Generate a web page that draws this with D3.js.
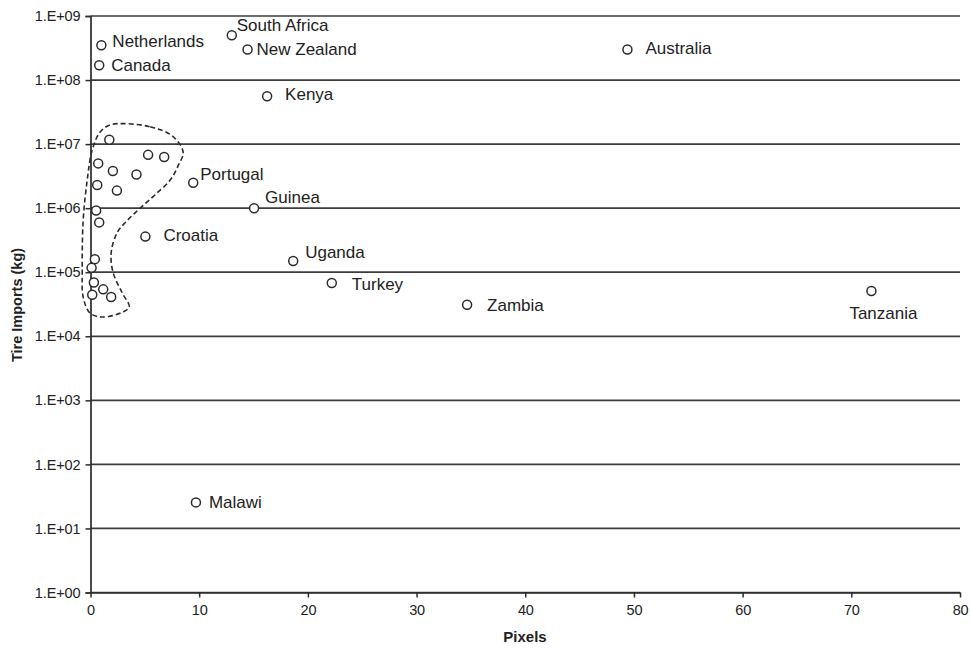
<!DOCTYPE html>
<html>
<head>
<meta charset="utf-8">
<script src="https://cdn.jsdelivr.net/npm/d3@7"></script>
<style>
  body { margin: 0; background: #fff; }
  svg { font-family: "Liberation Sans", Arial, sans-serif; }
</style>
</head>
<body>
<svg></svg>
<script>
// named countries
const countries = ["Netherlands", "Canada", "South Africa", "New Zealand", "Australia", "Kenya",
    "Portugal", "Guinea", "Croatia", "Uganda", "Turkey", "Zambia", "Tanzania", "Malawi"]
const pixels  = [1.0, 0.8, 13.0, 14.45, 49.4, 16.25, 9.45, 15.05, 5.05, 18.65, 22.2, 34.65, 71.85, 9.7]
const imports = [3.5e8, 1.7e8, 5.0e8, 3.0e8, 3.0e8, 5.6e7, 2.5e6, 1.0e6, 3.6e5, 1.5e5, 6.8e4, 3.1e4, 5.1e4, 25.5]

// unlabelled points inside the dashed outline
const clusterPixels  = [1.73, 5.3, 6.78, 0.71, 2.06, 4.23, 0.62, 2.43, 0.52, 0.8, 0.4, 0.1, 0.31, 1.17, 0.16, 1.9]
const clusterImports = [1.17e7, 6.8e6, 6.3e6, 5.0e6, 3.8e6, 3.35e6, 2.3e6, 1.88e6, 9.2e5, 6.0e5,
    1.6e5, 1.17e5, 6.9e4, 5.4e4, 4.45e4, 4.1e4]

// dashed outline around the cluster (pixels, log10 of imports)
const outlineX   = [3.02, 5.49, 7.51, 8.52, 8.06, 7.33, 5.95, 4.57, 3.28, 2.46, 1.90, 2.09, 2.91, 3.56,
    3.0, 1.17, -0.03, -0.67, -0.76, -0.67, -0.30, 0.16, 0.89, 1.81]
const outlineLog = [7.32, 7.27, 7.13, 6.88, 6.66, 6.44, 6.21, 6.00, 5.79, 5.62, 5.30, 4.99, 4.68, 4.46,
    4.38, 4.30, 4.36, 4.61, 5.04, 5.82, 6.44, 6.91, 7.19, 7.30]

const xTicks = [0, 10, 20, 30, 40, 50, 60, 70, 80]
const yTicks = [1e0, 1e1, 1e2, 1e3, 1e4, 1e5, 1e6, 1e7, 1e8, 1e9]

const
    svgWidth = 971,
    svgHeight = 650,
    LEFT = 90.5,
    RIGHT = 960,
    TOP = 16,
    BOTTOM = 592.5,
    INK = '#2b2b2b'

// label placement relative to each point
const labelOffset = {
    "Netherlands": [11, -4], "Canada": [12, 0], "South Africa": [5, -10], "New Zealand": [9, 0],
    "Australia": [18, -1], "Kenya": [18, -2], "Portugal": [7, -9], "Guinea": [11, -11],
    "Croatia": [18, -2], "Uganda": [12, -9], "Turkey": [20, 1], "Zambia": [20, 0],
    "Tanzania": [12, 22, 'middle'], "Malawi": [13, 0]
}

let svg = d3.select('svg')
    .attr('width', svgWidth)
    .attr('height', svgHeight)

let x = d3.scaleLinear().domain([0, 80]).range([LEFT, RIGHT])
let y = d3.scaleLog().domain([1, 1e9]).range([BOTTOM, TOP])

const fmt = d => '1.E+' + String(Math.round(Math.log10(d))).padStart(2, '0')

// horizontal gridlines
svg.append('g')
    .selectAll('line')
    .data(yTicks)
    .enter()
    .append('line')
        .attr('x1', LEFT)
        .attr('x2', RIGHT)
        .attr('y1', d => y(d))
        .attr('y2', d => y(d))
        .attr('stroke', '#3c3c3c')
        .attr('stroke-width', 1.7)

let yAxis = svg.append('g')
    .attr('transform', `translate(${LEFT},0)`)
    .call(d3.axisLeft(y).tickValues(yTicks).tickFormat(fmt).tickSize(5).tickPadding(5))
yAxis.select('.domain').attr('stroke', INK).attr('stroke-width', 1.7)
yAxis.selectAll('.tick line').attr('stroke', INK).attr('stroke-width', 1.5)
yAxis.selectAll('text').attr('font-size', 14.5).attr('fill', '#222').attr('letter-spacing', -0.1)
    .attr('font-family', '"Liberation Sans", Arial, sans-serif')

let xAxis = svg.append('g')
    .attr('transform', `translate(0,${BOTTOM})`)
    .call(d3.axisBottom(x).tickValues(xTicks).tickSize(5).tickPadding(7).tickSizeOuter(0))
xAxis.select('.domain').attr('stroke', INK).attr('stroke-width', 1.7)
xAxis.selectAll('.tick line').attr('stroke', INK).attr('stroke-width', 1.5)
xAxis.selectAll('text').attr('font-size', 14.5).attr('fill', '#222').attr('letter-spacing', -0.2)
    .attr('font-family', '"Liberation Sans", Arial, sans-serif')

// axis titles
svg.append('text')
    .attr('transform', 'translate(17, 305) rotate(-90)')
    .attr('dy', '0.35em')
    .attr('text-anchor', 'middle')
    .attr('font-size', 14.5)
    .attr('font-weight', 'bold')
    .attr('fill', '#222')
    .text('Tire Imports (kg)')

svg.append('text')
    .attr('x', 525)
    .attr('y', 642)
    .attr('text-anchor', 'middle')
    .attr('font-size', 15)
    .attr('font-weight', 'bold')
    .attr('fill', '#222')
    .text('Pixels')

// dashed outline
const outline = outlineX.map((d, i) => [d, Math.pow(10, outlineLog[i])])
svg.append('path')
    .datum(outline)
    .attr('d', d3.line().x(d => x(d[0])).y(d => y(d[1])).curve(d3.curveCatmullRomClosed))
    .attr('fill', 'none')
    .attr('stroke', INK)
    .attr('stroke-width', 1.6)
    .attr('stroke-dasharray', '5,3')

// points
const points = countries.map((c, i) => ({ name: c, px: pixels[i], kg: imports[i] }))
    .concat(clusterPixels.map((p, i) => ({ name: '', px: p, kg: clusterImports[i] })))

svg.append('g')
    .selectAll('circle')
    .data(points)
    .enter()
    .append('circle')
        .attr('cx', d => x(d.px))
        .attr('cy', d => y(d.kg))
        .attr('r', 4.5)
        .attr('fill', '#fff')
        .attr('stroke', INK)
        .attr('stroke-width', 1.5)

svg.append('g')
    .selectAll('text')
    .data(points.filter(d => d.name))
    .enter()
    .append('text')
        .attr('x', d => x(d.px) + labelOffset[d.name][0])
        .attr('y', d => y(d.kg) + labelOffset[d.name][1])
        .attr('dy', '0.35em')
        .attr('text-anchor', d => labelOffset[d.name][2] || 'start')
        .attr('font-size', 17)
        .attr('fill', '#222')
        .text(d => d.name)
</script>
</body>
</html>
